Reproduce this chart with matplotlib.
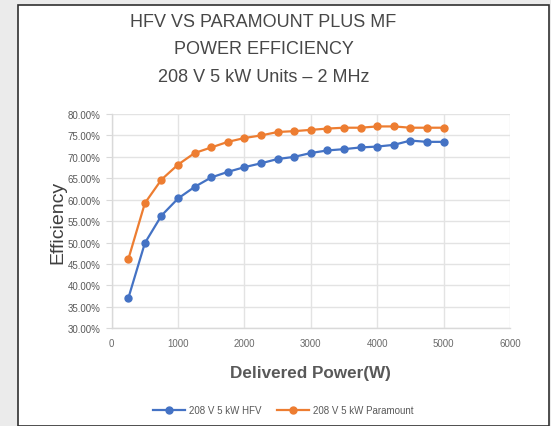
import matplotlib
matplotlib.use("Agg")
import matplotlib.pyplot as plt
from matplotlib.patches import Rectangle
from matplotlib.ticker import FuncFormatter, MultipleLocator

plt.rcParams['font.family'] = ['Liberation Sans', 'DejaVu Sans']

power = [250, 500, 750, 1000, 1250, 1500, 1750, 2000, 2250, 2500,
         2750, 3000, 3250, 3500, 3750, 4000, 4250, 4500, 4750, 5000]
hfv = [37.0, 49.9, 56.3, 60.3, 63.0, 65.2, 66.5, 67.6, 68.5, 69.5,
       70.0, 70.9, 71.5, 71.8, 72.2, 72.4, 72.8, 73.8, 73.5, 73.5]
paramount = [46.1, 59.2, 64.7, 68.2, 70.9, 72.2, 73.5, 74.4, 75.0, 75.8,
             76.0, 76.3, 76.6, 76.8, 76.8, 77.1, 77.1, 76.8, 76.8, 76.8]
series_names = ['208 V 5 kW HFV', '208 V 5 kW Paramount']
title_lines = ['HFV VS PARAMOUNT PLUS MF', 'POWER EFFICIENCY', '208 V 5 kW Units \u2013 2 MHz']

W, H = 551, 427
fig = plt.figure(figsize=(W / 100, H / 100), dpi=100)
fig.patch.set_facecolor('#ebebeb')

# white chart box
box = Rectangle((18 / W, 0), (549 - 18) / W, (H - 5.5) / H, transform=fig.transFigure,
                facecolor='white', edgecolor='#303030', linewidth=1.2, zorder=-5)
fig.patches.append(box)

ax = fig.add_axes([111.7 / W, 1 - 329.3 / H, (510 - 111.7) / W, (329.3 - 115) / H])
ax.set_zorder(1)
ax.set_facecolor('white')

ax.plot(power, hfv, color='#4472C4', marker='o', markersize=5, linewidth=1.6, label=series_names[0], zorder=3)
ax.plot(power, paramount, color='#ED7D31', marker='o', markersize=5, linewidth=1.6, label=series_names[1], zorder=3)

ax.set_xlim(0, 6000)
ax.set_ylim(30, 80)
ax.xaxis.set_major_locator(MultipleLocator(1000))
ax.yaxis.set_major_locator(MultipleLocator(5))
ax.yaxis.set_major_formatter(FuncFormatter(lambda v, p: f'{v:.2f}%'))
ax.grid(True, color='#e3e3e3', linewidth=1.0, zorder=0)
ax.set_axisbelow(True)
for s in ['top', 'right']:
    ax.spines[s].set_visible(False)
for s in ['left', 'bottom']:
    ax.spines[s].set_color('#d9d9d9')
    ax.spines[s].set_linewidth(1.0)
ax.tick_params(axis='both', colors='#d9d9d9', labelcolor='#595959', labelsize=7, length=4)
ax.tick_params(axis='x', pad=7, length=0, labelcolor='#6a6a6a')
ax.tick_params(axis='y', pad=4)

ax.set_xlabel('Delivered Power(W)', fontsize=12.3, fontweight='bold', color='#595959', labelpad=12)
ax.set_ylabel('Efficiency', fontsize=14, color='#404040', labelpad=1)

for i, t in enumerate(title_lines):
    fig.text(263.5 / W, 1 - (22.5 + 27.5 * i) / H, t, ha='center', va='center',
             fontsize=13, color='#474747')

fig.legend(loc='center', bbox_to_anchor=(283.5 / W, 1 - 411 / H), ncol=2, frameon=False,
           fontsize=7, labelcolor='#595959', handlelength=3.3, columnspacing=1.6, handletextpad=0.4)

fig.savefig('out.png', dpi=100, facecolor=fig.get_facecolor())
